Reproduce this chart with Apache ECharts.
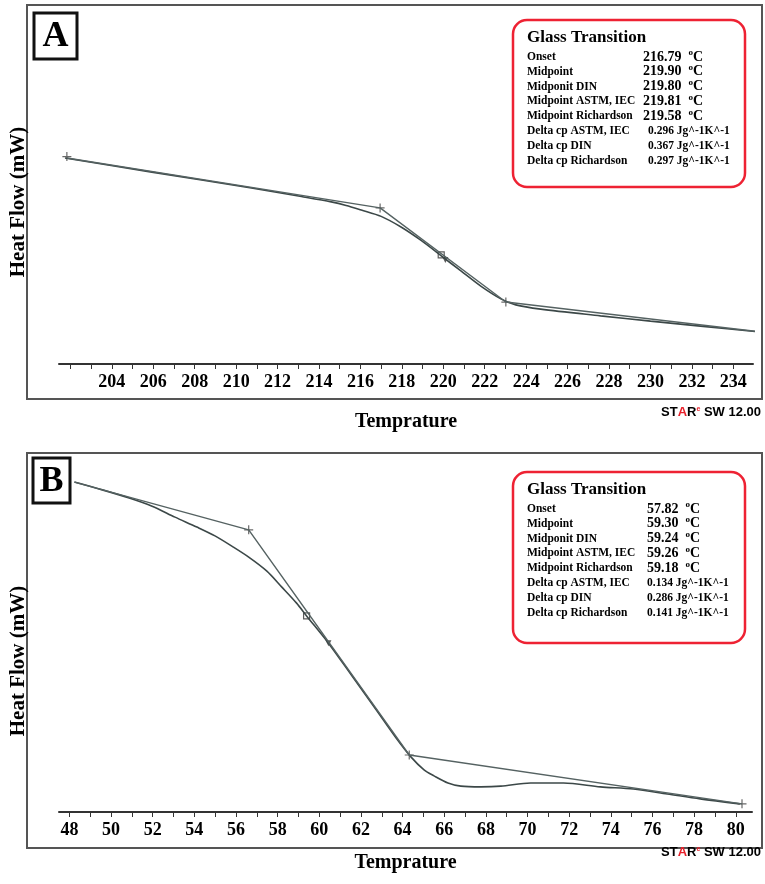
<!DOCTYPE html>
<html>
<head>
<meta charset="utf-8">
<script src="https://cdn.jsdelivr.net/npm/echarts@6/dist/echarts.min.js"></script>
<style>
  html, body { margin: 0; padding: 0; background: #fff; }
  #chart { width: 765px; height: 884px; }
</style>
</head>
<body>
<div id="chart"></div>
<script>
// panel A - measured DSC curve (temperature, heat flow in arbitrary mW units)
const tempA = [201.74, 205.93, 210.74, 213.15, 214.59, 215.31, 216.04, 217.00, 217.96, 218.93, 219.98, 220.85, 221.81, 222.78, 223.50, 224.70, 227.59, 230.00, 232.41, 235.39];
const flowA = [5.82, 5.42, 4.97, 4.73, 4.58, 4.48, 4.35, 4.17, 3.87, 3.49, 3.02, 2.63, 2.20, 1.84, 1.67, 1.55, 1.36, 1.21, 1.07, 0.90];
// panel A - tangent construction (start, onset, endset, end)
const tanTempA = [201.83, 216.95, 223.02, 235.39];
const tanFlowA = [5.82, 4.41, 1.75, 0.90];
const midA = [[219.90, 3.08]];
const triA = [[220.10, 2.94]];
const crossA = [[201.83, 5.86], [216.95, 4.41], [223.02, 1.75]];

// panel B - measured DSC curve
const tempB = [48.24, 49.58, 50.87, 51.97, 53.07, 54.12, 54.99, 55.80, 56.61, 57.47, 58.19, 58.91, 59.39, 60.44, 61.54, 62.74, 63.69, 64.41, 65.03, 65.51, 66.18, 66.80, 67.76, 68.72, 70.15, 71.73, 73.50, 75.08, 76.71, 78.29, 80.20];
const flowB = [9.32, 9.10, 8.87, 8.64, 8.33, 8.05, 7.80, 7.51, 7.20, 6.81, 6.36, 5.90, 5.54, 4.77, 3.87, 2.88, 2.09, 1.55, 1.19, 1.02, 0.82, 0.73, 0.71, 0.73, 0.82, 0.82, 0.71, 0.65, 0.51, 0.37, 0.23];
const tanTempB = [48.24, 56.61, 64.32, 80.30];
const tanFlowB = [9.32, 7.97, 1.61, 0.23];
const midB = [[59.39, 5.54]];
const triB = [[60.44, 4.77]];
const crossB = [[56.61, 7.97], [64.32, 1.61], [80.30, 0.23]];

// result tables
const infoLabels = ['Onset', 'Midpoint', 'Midponit DIN', 'Midpoint ASTM, IEC', 'Midpoint Richardson',
  'Delta cp ASTM, IEC', 'Delta cp DIN', 'Delta cp Richardson'];
const infoA = ['216.79', '219.90', '219.80', '219.81', '219.58', '0.296', '0.367', '0.297'];
const infoB = ['57.82', '59.30', '59.24', '59.26', '59.18', '0.134', '0.286', '0.141'];

const zip = (xs, ys) => xs.map((x, i) => [x, ys[i]]);
const serif = '"Liberation Serif", "Times New Roman", serif';
const lineCol = '#3c4848';

function xAxisFor(gridIndex, min, max, gap, firstLabel) {
  return {
    type: 'value', gridIndex: gridIndex, min: min, max: max,
    minInterval: 1, maxInterval: 1,
    name: 'Temprature', nameLocation: 'middle', nameGap: gap,
    nameTextStyle: { fontFamily: serif, fontWeight: 'bold', fontSize: 20, color: '#000' },
    axisLine: { lineStyle: { color: '#333', width: 2 } },
    axisTick: { inside: false, length: 5, lineStyle: { color: '#333' } },
    splitLine: { show: false },
    axisLabel: {
      margin: 9, fontFamily: serif, fontWeight: 'bold', fontSize: 18, color: '#000',
      showMinLabel: false, showMaxLabel: false,
      formatter: function (v) {
        const r = Math.round(v);
        return (Math.abs(v - r) < 1e-6 && r % 2 === 0 && r >= firstLabel) ? String(r) : '';
      }
    }
  };
}

function yAxisFor(gridIndex, shift) {
  return {
    type: 'value', gridIndex: gridIndex, min: 0, max: 10,
    name: 'Heat Flow (mW)', nameLocation: 'middle', nameGap: 30,
    nameTextStyle: { fontFamily: serif, fontWeight: 'bold', fontSize: 21, color: '#000', padding: [0, shift, 0, 0] },
    axisLine: { show: false }, axisTick: { show: false }, axisLabel: { show: false }, splitLine: { show: false }
  };
}

function seriesFor(idx, curve, tangent, mid, tri, cross) {
  return [
    { type: 'line', xAxisIndex: idx, yAxisIndex: idx, data: curve, smooth: 0.3, symbol: 'none', clip: false,
      lineStyle: { color: lineCol, width: 1.6 } },
    { type: 'line', xAxisIndex: idx, yAxisIndex: idx, data: tangent, symbol: 'none', clip: false,
      lineStyle: { color: '#556262', width: 1.4 } },
    { type: 'scatter', xAxisIndex: idx, yAxisIndex: idx, data: mid, symbol: 'rect', symbolSize: 6,
      itemStyle: { color: '#fff', borderColor: '#333', borderWidth: 1.2 } },
    { type: 'scatter', xAxisIndex: idx, yAxisIndex: idx, data: tri, symbol: 'triangle', symbolSize: 6, symbolRotate: 180,
      itemStyle: { color: '#333' } },
    { type: 'scatter', xAxisIndex: idx, yAxisIndex: idx, data: cross, symbol: 'path://M0,5L10,5M5,0L5,10', symbolSize: 9,
      itemStyle: { color: 'none', borderColor: '#444', borderWidth: 1.2 } }
  ];
}

function infoBox(top, height, values, valX, deltaX) {
  const els = [{
    type: 'rect', shape: { x: 513, y: top, width: 232, height: height, r: 14 },
    style: { fill: '#fff', stroke: '#ee2233', lineWidth: 2.5 }
  }, {
    type: 'text', x: 527, y: top + 18,
    style: { text: 'Glass Transition', font: 'bold 17px ' + serif, fill: '#000', verticalAlign: 'middle' }
  }];
  infoLabels.forEach(function (lab, i) {
    const y = top + 37 + i * 14.8;
    els.push({ type: 'text', x: 527, y: y,
      style: { text: lab, font: 'bold 11.5px ' + serif, fill: '#000', verticalAlign: 'middle' } });
    const isTemp = i < 5;
    els.push({ type: 'text', x: isTemp ? valX : deltaX, y: y,
      style: isTemp ? {
        text: '{v|' + values[i] + '  }{s|o}{v|C}', verticalAlign: 'middle',
        rich: {
          v: { font: 'bold 14px ' + serif, fill: '#000' },
          s: { font: 'bold 9px ' + serif, fill: '#000', verticalAlign: 'bottom', padding: [0, 0, 8, 0] }
        }
      } : {
        text: values[i] + ' Jg^-1K^-1', font: 'bold 11.5px ' + serif, fill: '#000', verticalAlign: 'middle'
      } });
  });
  return els;
}

function starText(y) {
  return {
    type: 'text', x: 761, y: y,
    style: {
      text: '{k|ST}{r|A}{k|R}{e|e}{k| SW 12.00}', align: 'right', verticalAlign: 'middle',
      rich: {
        k: { font: 'bold 13px "Liberation Sans", Arial, sans-serif', fill: '#000' },
        r: { font: 'bold 13px "Liberation Sans", Arial, sans-serif', fill: '#e8202a' },
        e: { font: 'bold 7px "Liberation Sans", Arial, sans-serif', fill: '#e8202a', verticalAlign: 'bottom', padding: [0, 0, 6, 0] }
      }
    }
  };
}

function panelLetter(x, y, w, h, letter) {
  return [{
    type: 'rect', shape: { x: x, y: y, width: w, height: h },
    style: { fill: '#fff', stroke: '#111', lineWidth: 3 }
  }, {
    type: 'text', x: x + w / 2, y: y + h / 2 + 1,
    style: { text: letter, font: 'bold 36px ' + serif, fill: '#000', align: 'center', verticalAlign: 'middle' }
  }];
}

const chart = echarts.init(document.getElementById('chart'), null, { renderer: 'canvas' });

const option = {
  backgroundColor: '#fff',
  animation: false,
  grid: [
    { left: 57, top: 10, width: 696, height: 354 },
    { left: 57, top: 458, width: 695, height: 354 }
  ],
  xAxis: [xAxisFor(0, 201.45, 234.95, 48, 204), xAxisFor(1, 47.5, 80.78, 41, 48)],
  yAxis: [yAxisFor(0, 30), yAxisFor(1, 52)],
  series: seriesFor(0, zip(tempA, flowA), zip(tanTempA, tanFlowA), midA, triA, crossA)
    .concat(seriesFor(1, zip(tempB, flowB), zip(tanTempB, tanFlowB), midB, triB, crossB)),
  graphic: [].concat(
    [{ type: 'rect', silent: true, z: -10, shape: { x: 27, y: 5, width: 735, height: 394 },
       style: { fill: 'none', stroke: '#555', lineWidth: 2 } },
     { type: 'rect', silent: true, z: -10, shape: { x: 27, y: 453, width: 735, height: 395 },
       style: { fill: 'none', stroke: '#555', lineWidth: 2 } }],
    panelLetter(34, 13, 43, 46, 'A'),
    panelLetter(33, 458, 37, 45, 'B'),
    infoBox(20, 167, infoA, 643, 648),
    infoBox(472, 171, infoB, 647, 647),
    [starText(412), starText(852)]
  )
};

chart.setOption(option);
</script>
</body>
</html>
